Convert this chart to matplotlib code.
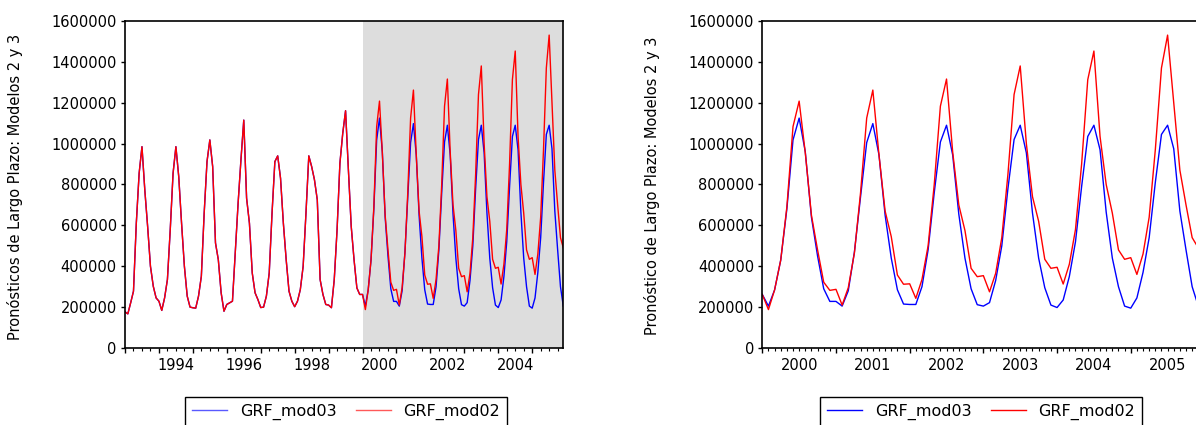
import matplotlib.pyplot as plt
import numpy as np
from matplotlib.ticker import FixedLocator, MultipleLocator

plt.rcParams['font.family'] = ['DejaVu Sans']

# Datos mensuales 1993:01 - 1999:12 (historico, igual en ambos modelos)
historico = [
    177000, 167000, 221000, 278000, 611000, 855000, 985000, 774000, 595000, 400000, 302000, 245000,
    229000, 184000, 245000, 335000, 579000, 855000, 985000, 839000, 611000, 400000, 254000, 200000,
    197000, 195000, 254000, 351000, 660000, 912000, 1018000, 888000, 514000, 432000, 270000, 180000,
    213000, 221000, 229000, 465000, 709000, 920000, 1115000, 733000, 611000, 367000, 270000, 237000,
    198000, 200000, 254000, 367000, 660000, 912000, 940000, 831000, 611000, 432000, 278000, 229000,
    202000, 229000, 286000, 400000, 660000, 940000, 888000, 823000, 725000, 335000, 262000, 213000,
    210000, 197000, 335000, 579000, 904000, 1050000, 1161000, 872000, 595000, 432000, 294000, 262000,
]

# Pronosticos 2000:01 - 2005:12
pron_mod03 = [
    262000, 205000, 284000, 430000, 680000, 1018000, 1125000, 960000, 640000, 450000, 290000, 228000,
    228000, 205000, 280000, 470000, 740000, 1005000, 1098000, 945000, 650000, 440000, 285000, 215000,
    213000, 213000, 300000, 480000, 760000, 1008000, 1090000, 945000, 655000, 440000, 290000, 212000,
    205000, 222000, 330000, 500000, 780000, 1020000, 1090000, 955000, 660000, 440000, 295000, 210000,
    198000, 235000, 350000, 520000, 790000, 1035000, 1090000, 970000, 665000, 440000, 300000, 205000,
    195000, 245000, 370000, 540000, 810000, 1045000, 1090000, 975000, 670000, 480000, 300000, 205000,
]
pron_mod02 = [
    262000, 188000, 284000, 430000, 690000, 1083000, 1208000, 955000, 650000, 480000, 322000, 282000,
    287000, 210000, 295000, 465000, 760000, 1125000, 1262000, 945000, 670000, 545000, 357000, 312000,
    314000, 243000, 335000, 500000, 800000, 1183000, 1316000, 960000, 700000, 575000, 390000, 349000,
    354000, 275000, 365000, 540000, 850000, 1240000, 1380000, 1000000, 740000, 620000, 434000, 390000,
    395000, 313000, 410000, 580000, 900000, 1313000, 1453000, 1035000, 800000, 660000, 480000, 434000,
    442000, 360000, 460000, 640000, 970000, 1370000, 1531000, 1200000, 870000, 700000, 540000, 490000,
]

grf_mod03 = historico + pron_mod03
grf_mod02 = historico + pron_mod02

fechas_1 = 1993 + np.arange(len(grf_mod03)) / 12
fechas_2 = 2000 + np.arange(len(pron_mod03)) / 12
fin = fechas_1[-1]

fig = plt.figure(figsize=(11.96, 4.25), dpi=100)
ax1 = fig.add_axes([125 / 1196, 77 / 425, 438.3 / 1196, 327 / 425])
ax2 = fig.add_axes([762.3 / 1196, 77 / 425, 436 / 1196, 327 / 425])


def estilo(ax, x0, paso_menor, anios_etiqueta):
    ax.set_xlim(x0, fin)
    ax.set_ylim(0, 1600000)
    ax.set_yticks(np.arange(0, 1600001, 200000))
    ax.set_yticklabels([str(v) for v in range(0, 1600001, 200000)])
    ax.xaxis.set_major_locator(FixedLocator(np.arange(int(x0), 2006)))
    ax.xaxis.set_minor_locator(MultipleLocator(paso_menor))
    ax.tick_params(axis='x', which='major', length=3.8, width=1, labelbottom=False)
    ax.tick_params(axis='x', which='minor', length=2.2, width=0.8)
    ax.tick_params(axis='y', length=3, width=1, pad=3, labelsize=10.5)
    for s in ax.spines.values():
        s.set_linewidth(1.2)
    sec = ax.secondary_xaxis('bottom')
    sec.set_xticks([a + 0.5 for a in anios_etiqueta], [str(a) for a in anios_etiqueta])
    sec.tick_params(length=0, pad=7, labelsize=10.5)
    sec.spines['bottom'].set_visible(False)


def leyenda(ax, centro_x):
    leg = ax.legend(loc='upper center', bbox_to_anchor=(centro_x / 1196, 28 / 425),
                    bbox_transform=fig.transFigure, ncol=2, fancybox=False,
                    edgecolor='black', fontsize=11.5, handlelength=2.2,
                    columnspacing=1.2, borderpad=0.4, borderaxespad=0,
                    framealpha=1)
    leg.get_frame().set_linewidth(1.0)
    return leg


# Panel izquierdo
ax1.axvspan(2000, fin, color='#dddddd', zorder=0, lw=0)
ax1.plot(fechas_1, grf_mod03, color='#0000ff', lw=1.0, label='GRF_mod03')
ax1.plot(fechas_1, grf_mod02, color='#ff0000', lw=1.0, label='GRF_mod02')
estilo(ax1, 1993, 0.25, [1994, 1996, 1998, 2000, 2002, 2004])
fig.text(15 / 1196, 1 - 187 / 425, 'Pronósticos de Largo Plazo: Modelos 2 y 3',
         rotation=90, ha='center', va='center', fontsize=10.5)
leg1 = leyenda(ax1, 346)
for h in leg1.get_lines():
    h.set_alpha(0.65)

# Panel derecho
ax2.plot(fechas_2, pron_mod03, color='#0000ff', lw=1.0, label='GRF_mod03')
ax2.plot(fechas_2, pron_mod02, color='#ff0000', lw=1.0, label='GRF_mod02')
estilo(ax2, 2000, 1 / 12, [2000, 2001, 2002, 2003, 2004, 2005])
fig.text(652 / 1196, 1 - 186 / 425, 'Pronóstico de Largo Plazo: Modelos 2 y 3',
         rotation=90, ha='center', va='center', fontsize=10.5)
leyenda(ax2, 981)

fig.savefig('out.png', dpi=100)
